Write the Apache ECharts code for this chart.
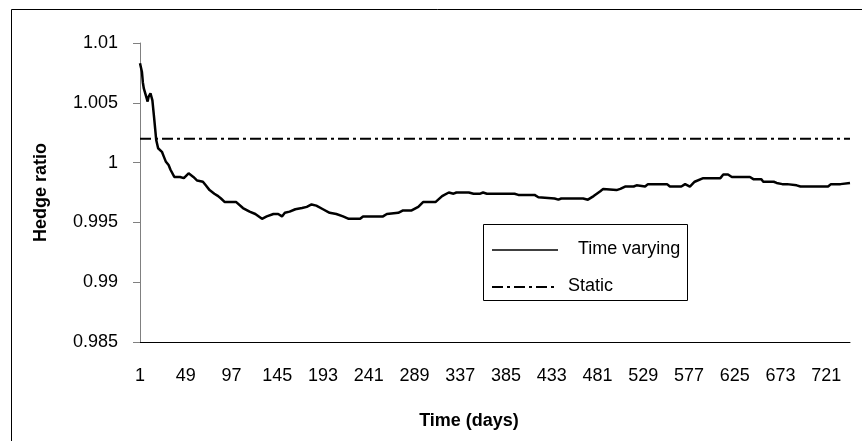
<!DOCTYPE html>
<html>
<head>
<meta charset="utf-8">
<script src="https://cdn.jsdelivr.net/npm/echarts@6/dist/echarts.min.js"></script>
<style>
html,body{margin:0;padding:0;background:#fff;}
#chart{width:862px;height:441px;}
</style>
</head>
<body>
<div id="chart"></div>
<script>
var FONT = 'Arial, "Liberation Sans", sans-serif';
var dayCount = 746;
var dayLabels = [];
for (var i = 1; i <= dayCount; i++) dayLabels.push(String(i));

var timeVaryingDays = [1,2,3,4,5,7,9,10,12,14,16,18,20,22,24,26,28,31,33,37,39,43,47,52,57,61,67,70,74,79,83,86,90,102,109,116,122,129,134,141,146,150,153,158,164,171,176,181,186,193,200,207,214,220,232,235,256,260,272,277,286,293,298,304,311,318,325,330,333,346,351,358,361,365,394,398,415,419,436,440,443,466,471,477,484,487,501,505,510,519,522,531,534,554,557,569,573,578,583,592,610,613,618,622,641,645,653,655,666,669,675,677,680,690,694,723,726,736,737,746];
var timeVaryingValues = [1.0083,1.0082,1.0076,1.0067,1.0062,1.0061,1.0051,1.0055,1.0058,1.0052,1.0036,1.0019,1.0012,1.0011,1.0009,1.0005,1.0001,0.9998,0.9994,0.9988,0.9987,0.9988,0.9987,0.9991,0.9988,0.9985,0.9984,0.9981,0.9977,0.9974,0.9972,0.9970,0.9967,0.9967,0.9962,0.9959,0.9957,0.9953,0.9955,0.9957,0.9957,0.9955,0.9958,0.9959,0.9961,0.9962,0.9963,0.9965,0.9964,0.9961,0.9958,0.9957,0.9955,0.9953,0.9953,0.9955,0.9955,0.9957,0.9958,0.9960,0.9960,0.9963,0.9967,0.9967,0.9967,0.9972,0.9975,0.9974,0.9975,0.9975,0.9974,0.9974,0.9975,0.9974,0.9974,0.9973,0.9973,0.9971,0.9970,0.9969,0.9970,0.9970,0.9969,0.9972,0.9976,0.9978,0.9977,0.9978,0.9980,0.9980,0.9981,0.9980,0.9982,0.9982,0.9980,0.9980,0.9982,0.9980,0.9984,0.9987,0.9987,0.9990,0.9990,0.9988,0.9988,0.9986,0.9986,0.9984,0.9984,0.9983,0.9982,0.9983,0.9982,0.9981,0.9980,0.9980,0.9982,0.9982,0.9983,0.9983];
var staticDays = [1, 746];
var staticValues = [1.002, 1.002];
var yTicks = {min: 0.985, max: 1.01, interval: 0.005};
var seriesNames = ['Time varying', 'Static'];
var staticDash = [11, 4, 3, 4];

function pairs(days, vals) {
  return days.map(function (d, i) { return [String(d), vals[i]]; });
}

var chart = echarts.init(document.getElementById('chart'), null, {renderer: 'canvas'});
chart.setOption({
  animation: false,
  backgroundColor: '#fff',
  textStyle: {fontFamily: FONT},
  grid: {left: 140, right: 12, top: 43, bottom: 99, containLabel: false},
  graphic: [
    {type: 'rect', z: 0, shape: {x: 11.5, y: 9.5, width: 900, height: 500},
     style: {fill: 'none', stroke: '#000', lineWidth: 1}},
    {type: 'group', z: 5, children: [
      {type: 'rect', shape: {x: 483.5, y: 224.5, width: 204, height: 76},
       style: {fill: '#fff', stroke: '#000', lineWidth: 1}},
      {type: 'line', shape: {x1: 492, y1: 250, x2: 558, y2: 250},
       style: {stroke: '#000', lineWidth: 1.5}},
      {type: 'text', x: 578, y: 249,
       style: {text: seriesNames[0], font: '18px ' + FONT, fill: '#000', verticalAlign: 'middle', align: 'left'}},
      {type: 'line', shape: {x1: 492, y1: 287, x2: 558, y2: 287},
       style: {stroke: '#000', lineWidth: 2, lineDash: staticDash}},
      {type: 'text', x: 568, y: 286,
       style: {text: seriesNames[1], font: '18px ' + FONT, fill: '#000', verticalAlign: 'middle', align: 'left'}}
    ]}
  ],
  xAxis: {
    type: 'category',
    data: dayLabels,
    boundaryGap: false,
    name: 'Time (days)',
    nameLocation: 'middle',
    nameGap: 70,
    nameTextStyle: {fontFamily: FONT, fontSize: 18, fontWeight: 'bold', color: '#000', padding: [0, 52, 0, 0]},
    axisLine: {lineStyle: {color: '#000', width: 1}},
    axisTick: {show: false},
    axisLabel: {interval: 47, margin: 25, fontSize: 18, color: '#000', fontFamily: FONT},
    splitLine: {show: false}
  },
  yAxis: {
    type: 'value',
    min: yTicks.min, max: yTicks.max, interval: yTicks.interval,
    name: 'Hedge ratio',
    nameLocation: 'middle',
    nameGap: 90,
    nameTextStyle: {fontFamily: FONT, fontSize: 18, fontWeight: 'bold', color: '#000'},
    axisLine: {show: true, lineStyle: {color: '#808080', width: 1}},
    axisTick: {show: true, length: 7, lineStyle: {color: '#808080'}},
    axisLabel: {margin: 22, fontSize: 18, color: '#000', fontFamily: FONT,
      formatter: function (v) { return String(+v.toFixed(3)); }},
    splitLine: {show: false}
  },
  series: [
    {
      name: seriesNames[0], type: 'line', symbol: 'none', z: 3,
      lineStyle: {color: '#000', width: 2.5, type: 'solid'},
      itemStyle: {color: '#000'},
      data: pairs(timeVaryingDays, timeVaryingValues)
    },
    {
      name: seriesNames[1], type: 'line', symbol: 'none', z: 2,
      lineStyle: {color: '#000', width: 2, type: staticDash},
      itemStyle: {color: '#000'},
      data: pairs(staticDays, staticValues)
    }
  ]
});
</script>
</body>
</html>
